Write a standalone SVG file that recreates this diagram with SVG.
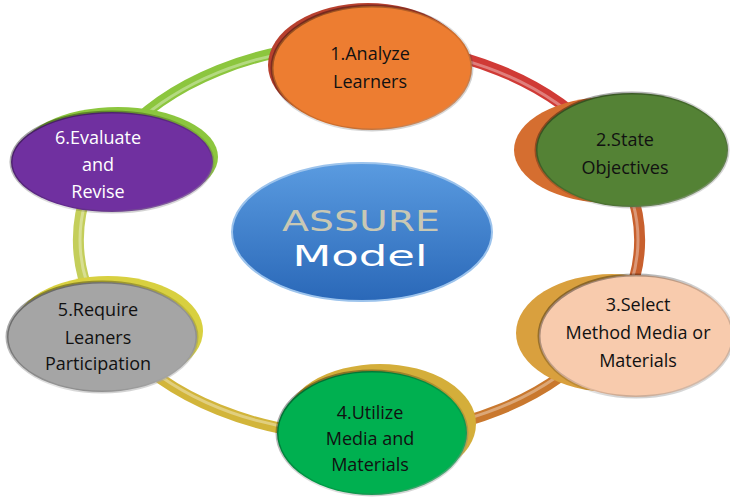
<svg xmlns="http://www.w3.org/2000/svg" width="730" height="497" viewBox="0 0 730 497">
<style>
  .ring { fill: none; stroke-width: 11; stroke-linecap: round; }
  .hl { fill: none; stroke: #ffffff; stroke-opacity: 0.35; stroke-width: 3; }
  .t { font-family: "Open Sans", "Liberation Sans", sans-serif; font-size: 18px; text-anchor: middle; fill: #111; }
  .tw { fill: #ffffff; }
  .c { font-family: "DejaVu Sans", "Liberation Sans", sans-serif; font-size: 29px; text-anchor: middle; }
</style>
<defs>
  <linearGradient id="blue" x1="0" y1="0" x2="0" y2="1">
    <stop offset="0" stop-color="#5A9BE0"/>
    <stop offset="1" stop-color="#2A68B8"/>
  </linearGradient>
  <linearGradient id="bev" x1="0" y1="0" x2="1" y2="1">
    <stop offset="0" stop-color="#000" stop-opacity="0.45"/>
    <stop offset="0.6" stop-color="#000" stop-opacity="0.1"/>
    <stop offset="1" stop-color="#fff" stop-opacity="0.6"/>
  </linearGradient>
</defs>
<rect width="730" height="497" fill="#ffffff"/>
<g id="connectors">
  <path class="ring" stroke="#D03A36" d="M 359 44 A 281 196 0 0 1 602 142"/>
  <path class="ring" stroke="#C8602E" d="M 602 142 A 281 196 0 0 1 602 338"/>
  <path class="ring" stroke="#C9782E" d="M 602 338 A 281 196 0 0 1 359 436"/>
  <path class="ring" stroke="#D2B53A" d="M 359 436 A 281 196 0 0 1 116 338"/>
  <path class="ring" stroke="#C4CE5A" d="M 116 338 A 281 196 0 0 1 116 142"/>
  <path class="ring" stroke="#8CC63E" d="M 116 142 A 281 196 0 0 1 359 44"/>
  <ellipse class="hl" cx="359" cy="240" rx="279" ry="194"/>
</g>
<g id="node1">
  <ellipse cx="368" cy="65" rx="100" ry="62" fill="#B8402E"/>
  <ellipse cx="372" cy="68" rx="100" ry="62" fill="#ED7D31" stroke="url(#bev)" stroke-width="3"/>
  <text class="t" x="370" y="60">1.Analyze</text>
  <text class="t" x="370" y="88">Learners</text>
</g>
<g id="node2">
  <ellipse cx="610" cy="150" rx="96" ry="53" fill="#D56E30"/>
  <ellipse cx="632" cy="150" rx="96" ry="57" fill="#548235" stroke="url(#bev)" stroke-width="3"/>
  <text class="t" x="625" y="146">2.State</text>
  <text class="t" x="625" y="174">Objectives</text>
</g>
<g id="node3">
  <ellipse cx="612" cy="333" rx="96" ry="59" fill="#D9A03E"/>
  <ellipse cx="636" cy="336" rx="97" ry="61" fill="#F8CBAD" stroke="url(#bev)" stroke-width="3"/>
  <text class="t" x="638" y="311">3.Select</text>
  <text class="t" x="638" y="339">Method Media or</text>
  <text class="t" x="638" y="367">Materials</text>
</g>
<g id="node4">
  <ellipse cx="380" cy="424" rx="96" ry="60" fill="#D4AE3A"/>
  <ellipse cx="372" cy="433" rx="95" ry="62" fill="#00B050" stroke="url(#bev)" stroke-width="3"/>
  <text class="t" x="370" y="419">4.Utilize</text>
  <text class="t" x="370" y="445">Media and</text>
  <text class="t" x="370" y="471">Materials</text>
</g>
<g id="node5">
  <ellipse cx="108" cy="331" rx="95" ry="55" fill="#D8D040"/>
  <ellipse cx="102" cy="337" rx="95" ry="55" fill="#A5A5A5" stroke="url(#bev)" stroke-width="3"/>
  <text class="t" x="98" y="316">5.Require</text>
  <text class="t" x="98" y="344">Leaners</text>
  <text class="t" x="98" y="370">Participation</text>
</g>
<g id="node6">
  <ellipse cx="118" cy="157" rx="100" ry="50" fill="#8CC63E"/>
  <ellipse cx="112" cy="162" rx="101" ry="50" fill="#7030A0" stroke="url(#bev)" stroke-width="3"/>
  <text class="t tw" x="98" y="144">6.Evaluate</text>
  <text class="t tw" x="98" y="171">and</text>
  <text class="t tw" x="98" y="198">Revise</text>
</g>
<g id="center">
  <ellipse cx="362" cy="232" rx="130" ry="69" fill="url(#blue)" stroke="#9CC3EC" stroke-width="2"/>
  <text class="c" x="361" y="231" fill="#C9C8B4" textLength="158" lengthAdjust="spacingAndGlyphs">ASSURE</text>
  <text class="c" x="360" y="266" fill="#ffffff" textLength="135" lengthAdjust="spacingAndGlyphs">Model</text>
</g>
</svg>
